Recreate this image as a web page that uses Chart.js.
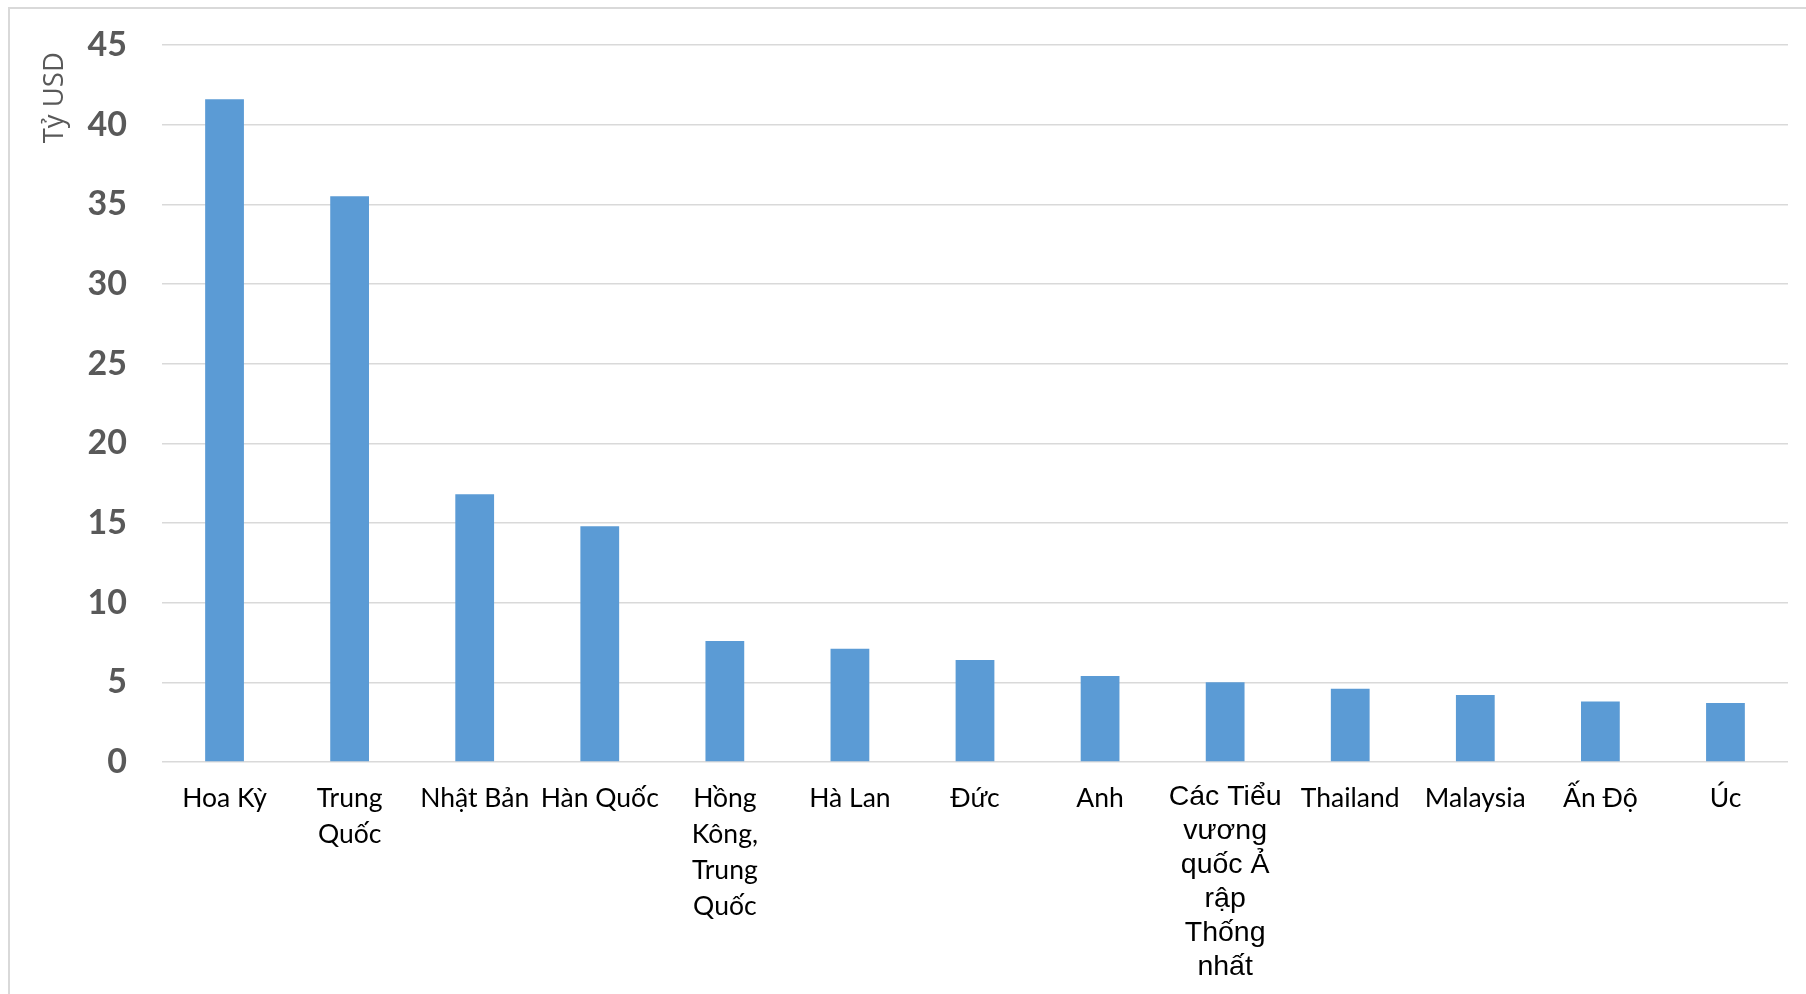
<!DOCTYPE html>
<html lang="vi">
<head>
<meta charset="utf-8">
<title>Tỷ USD</title>
<script src="https://cdn.jsdelivr.net/npm/chart.js@4/dist/chart.umd.min.js"></script>
<style>
  html, body { margin: 0; padding: 0; background: #ffffff; overflow: hidden; }
  #wrap { position: relative; width: 1806px; height: 994px; }
  #frame { position: absolute; left: 8px; top: 7px; width: 1820px; height: 1010px;
           border-left: 2px solid #d9d9d9; border-top: 2px solid #d9d9d9; box-sizing: border-box; }
  canvas { position: absolute; left: 0; top: 0; }
</style>
</head>
<body>
<div id="wrap">
  <div id="frame"></div>
  <canvas id="chart" width="1806" height="994"></canvas>
</div>
<script>
// Thị trường xuất khẩu (tỷ USD)
const categories = [
  'Hoa Kỳ',
  ['Trung', 'Quốc'],
  'Nhật Bản',
  'Hàn Quốc',
  ['Hồng', 'Kông,', 'Trung', 'Quốc'],
  'Hà Lan',
  'Đức',
  'Anh',
  ['Các Tiểu', 'vương', 'quốc Ả', 'rập', 'Thống', 'nhất'],
  'Thailand',
  'Malaysia',
  'Ấn Độ',
  'Úc'
];
const values = [41.6, 35.5, 16.8, 14.8, 7.6, 7.1, 6.4, 5.4, 5.0, 4.6, 4.2, 3.8, 3.7];
const yTicks = [0, 5, 10, 15, 20, 25, 30, 35, 40, 45];
const yTitle = 'Tỷ USD ';

const barColor = '#5b9bd5';
const gridColor = '#d9d9d9';

new Chart(document.getElementById('chart'), {
  type: 'bar',
  data: {
    labels: categories,
    datasets: [{
      data: values,
      backgroundColor: barColor,
      borderWidth: 0,
      categoryPercentage: 1,
      barPercentage: 0.31
    }]
  },
  options: {
    responsive: false,
    animation: false,
    devicePixelRatio: 1,
    layout: { padding: { left: 0, right: 18, top: 45, bottom: 0 } },
    plugins: { legend: { display: false }, tooltip: { enabled: false } },
    scales: {
      x: {
        grid: { display: false, drawTicks: false },
        border: { display: false },
        afterFit: (scale) => { scale.height = 232; },
        ticks: {
          autoSkip: false,
          maxRotation: 0,
          minRotation: 0,
          padding: 18,
          color: '#000000',
          font: (ctx) => ctx.index === 8
            ? { family: '"Liberation Sans", Arial, sans-serif', size: 28.5, lineHeight: '34px' }
            : { family: 'Lato, "Open Sans", sans-serif', size: 26.5, lineHeight: '36px' }
        }
      },
      y: {
        min: 0,
        max: 45,
        afterFit: (scale) => {
          scale.width = 162;
          // the plot top is set by the layout padding alone
          scale.paddingTop = 0;
          scale.paddingBottom = 0;
        },
        afterBuildTicks: (scale) => { scale.ticks = yTicks.map(v => ({ value: v })); },
        grid: { color: gridColor, lineWidth: 1.5, drawTicks: false },
        border: { display: false },
        ticks: {
          padding: 35,
          color: '#595959',
          font: { family: 'Lato, "Open Sans", sans-serif', size: 34, weight: 'bold' }
        },
        title: {
          display: true,
          text: yTitle,
          align: 'end',
          color: '#595959',
          padding: { top: 39, bottom: 0 },
          font: { family: '"Open Sans", sans-serif', size: 27.5, weight: 'normal' }
        }
      }
    }
  }
});
</script>
</body>
</html>
